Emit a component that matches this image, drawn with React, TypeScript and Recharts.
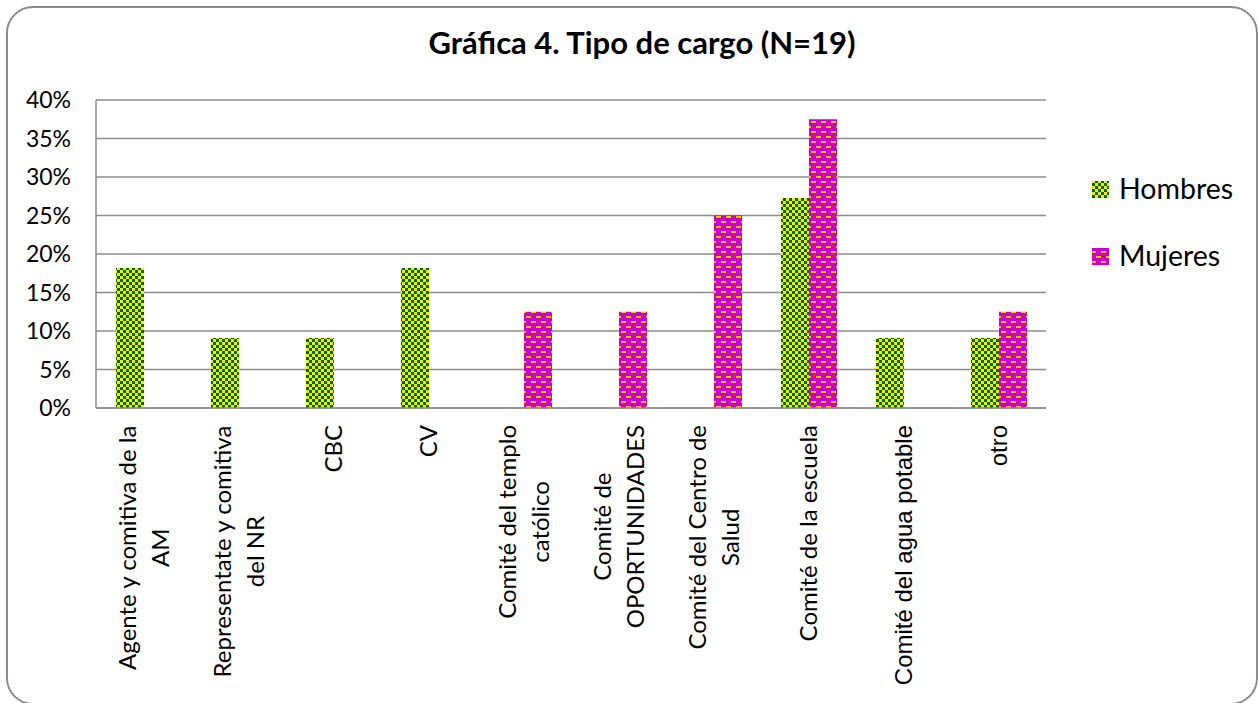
import { Bar, BarChart, CartesianGrid, XAxis, YAxis } from "recharts";

const categories = [
  "Agente y comitiva de la AM",
  "Representate y comitiva del NR",
  "CBC",
  "CV",
  "Comité del templo católico",
  "Comité de OPORTUNIDADES",
  "Comité del Centro de Salud",
  "Comité de la escuela",
  "Comité del agua potable",
  "otro",
];
const labelLines = [
  ["Agente y comitiva de la", "AM"],
  ["Representate y comitiva", "del NR"],
  ["CBC"],
  ["CV"],
  ["Comité del templo", "católico"],
  ["Comité de", "OPORTUNIDADES"],
  ["Comité del Centro de", "Salud"],
  ["Comité de la escuela"],
  ["Comité del agua potable"],
  ["otro"],
];
const hombres = [18.18, 9.09, 9.09, 18.18, 0, 0, 0, 27.27, 9.09, 9.09];
const mujeres = [0, 0, 0, 0, 12.5, 12.5, 25, 37.5, 0, 12.5];
const yTicks = [0, 5, 10, 15, 20, 25, 30, 35, 40];

const data = categories.map((c, i) => ({ cat: c, Hombres: hombres[i], Mujeres: mujeres[i] }));

const GRID = "#8c8c8c";
const LABEL_TOP = 425;

let canvas: HTMLCanvasElement | null = null;
function measure(text: string, font: string) {
  if (!canvas) canvas = document.createElement("canvas");
  const ctx = canvas.getContext("2d")!;
  ctx.font = font;
  return ctx.measureText(text).width;
}

function Patterns({ suffix }: { suffix: string }) {
  return (
    <defs>
      <pattern id={"hom" + suffix} width="6" height="6" patternUnits="userSpaceOnUse">
        <rect width="6" height="6" fill="#006600" />
        <rect x="0" y="0" width="3" height="3" fill="#f2f200" />
        <rect x="3" y="3" width="3" height="3" fill="#f2f200" />
      </pattern>
      <pattern id={"muj" + suffix} width="10" height="10" patternUnits="userSpaceOnUse">
        <rect width="10" height="10" fill="#cc00cc" />
        <rect x="1" y="1" width="5" height="2" fill="#ffc000" />
        <rect x="6" y="6" width="5" height="2" fill="#ffc000" />
        <rect x="-4" y="6" width="5" height="2" fill="#ffc000" />
      </pattern>
    </defs>
  );
}

function XTick(props: any) {
  const { x, payload } = props;
  const idx = categories.indexOf(payload.value);
  const lines = labelLines[idx] || [String(payload.value)];
  const arial = idx >= 8;
  const family = arial ? "'Liberation Sans', Arial, sans-serif" : "Lato, sans-serif";
  const size = 24;
  const font = `${size}px ${arial ? "'Liberation Sans'" : "Lato"}`;
  const maxW = Math.max(...lines.map((l) => measure(l, font)));
  const capH = size * 0.72;
  const lh = 33;
  return (
    <g transform={`translate(${x},${LABEL_TOP}) rotate(-90)`}>
      {lines.map((l, i) => (
        <text
          key={i}
          x={-maxW / 2}
          y={(i - (lines.length - 1) / 2) * lh + capH / 2}
          textAnchor="middle"
          fontFamily={family}
          fontSize={size}
          fill="#000"
        >
          {l}
        </text>
      ))}
    </g>
  );
}

export default function App() {
  return (
    <div style={{ position: "absolute", left: 0, top: 0, width: 1258, height: 703, background: "#fff" }}>
      <BarChart
        width={1258}
        height={703}
        data={data}
        barSize={28}
        barGap={0}
        margin={{ top: 100, right: 212, bottom: 265, left: 36 }}
      >
        <Patterns suffix="C" />
        <CartesianGrid vertical={false} stroke={GRID} strokeWidth={1.5} />
        <XAxis
          dataKey="cat"
          interval={0}
          height={30}
          tickLine={false}
          axisLine={{ stroke: GRID, strokeWidth: 1.5 }}
          tick={<XTick />}
        />
        <YAxis
          width={60}
          domain={[0, 40]}
          ticks={yTicks}
          tickFormatter={(v) => `${v}%`}
          tickLine={false}
          tickSize={0}
          tickMargin={25}
          axisLine={{ stroke: GRID, strokeWidth: 1.5 }}
          tick={{ fill: "#000", fontSize: 23, fontFamily: "Lato, sans-serif" }}
        />
        <Bar dataKey="Hombres" fill="url(#homC)" isAnimationActive={false} />
        <Bar dataKey="Mujeres" fill="url(#mujC)" isAnimationActive={false} />
      </BarChart>
      <svg
        width={1258}
        height={703}
        style={{ position: "absolute", left: 0, top: 0, pointerEvents: "none" }}
      >
        <Patterns suffix="L" />
        <rect x={7} y={7} width={1250} height={697} rx={26} fill="none" stroke="#8c8c8c" strokeWidth={2} />
        <text x={642} y={54} textAnchor="middle" fontFamily="Lato, sans-serif" fontWeight="bold" fontSize={31} fill="#000">
          Gráfica 4. Tipo de cargo (N=19)
        </text>
        <rect x={1092} y={181} width={17} height={17} fill="url(#homL)" />
        <text x={1119} y={199} fontFamily="Lato, sans-serif" fontSize={28.5} fill="#000">
          Hombres
        </text>
        <rect x={1092} y={248} width={17} height={17} fill="url(#mujL)" />
        <text x={1119} y={266} fontFamily="Lato, sans-serif" fontSize={28.5} fill="#000">
          Mujeres
        </text>
      </svg>
    </div>
  );
}
